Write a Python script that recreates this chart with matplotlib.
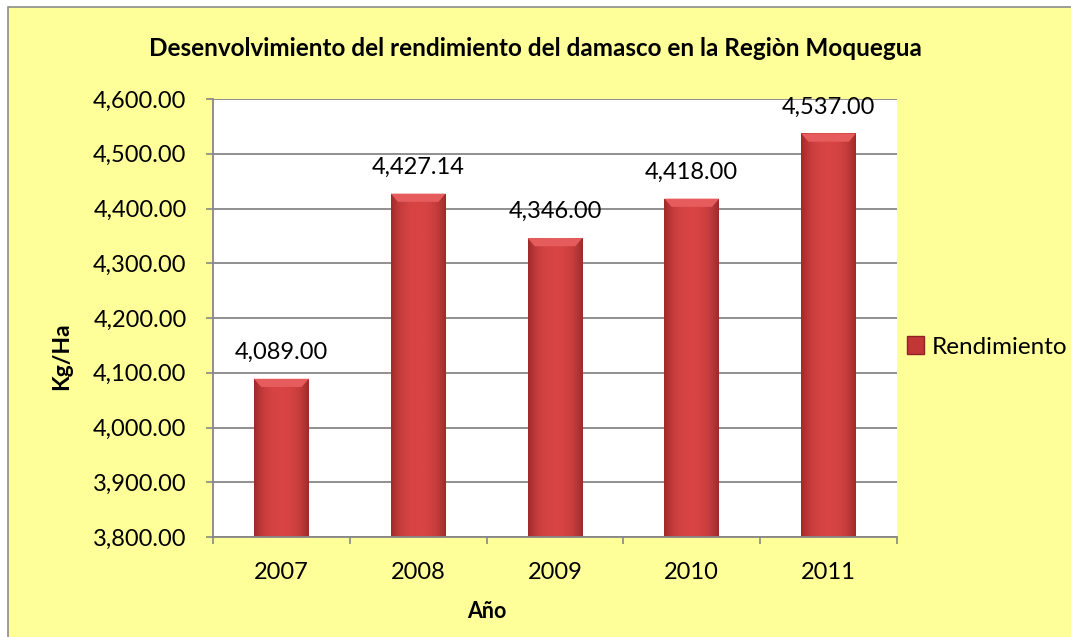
import numpy as np
import matplotlib
matplotlib.use("Agg")
import matplotlib.pyplot as plt
from matplotlib.patches import Rectangle, Patch, Polygon
from matplotlib.ticker import FuncFormatter, FixedLocator

# ---------------------------------
# Data
# ---------------------------------
years = ["2007", "2008", "2009", "2010", "2011"]
rendimiento = [4089.00, 4427.14, 4346.00, 4418.00, 4537.00]
value_labels = ["4,089.00", "4,427.14", "4,346.00", "4,418.00", "4,537.00"]

title = "Desenvolvimiento del rendimiento del damasco en la Regiòn Moquegua"
y_label = "Kg/Ha"
x_label = "Año"
series_name = "Rendimiento"

YELLOW = "#FFFF99"
GRID = "#878787"
BAR_MID = "#D84444"
BAR_EDGE = "#A02A2B"

plt.rcParams.update({
    "font.family": ["Lato", "DejaVu Sans"],
    "font.size": 17,
})

fig = plt.figure(figsize=(10.71, 6.37), dpi=100)
fig.patch.set_facecolor("white")

# yellow chart area with grey border
fig.patches.append(Rectangle((8 / 1071, -0.01), 1.0, 1 - 7 / 637 + 0.01,
                             transform=fig.transFigure, facecolor=YELLOW,
                             edgecolor="#8C8C8C", linewidth=1.2, zorder=-10))

ax = fig.add_axes([213 / 1071, 1 - 537 / 637, 684 / 1071, 438 / 637])
ax.set_facecolor("white")

x = np.arange(len(years))
bars = ax.bar(x, rendimiento, width=0.4, color=BAR_MID, zorder=3, linewidth=0)

ax.set_xlim(-0.5, len(years) - 0.5)
ax.set_ylim(3800, 4600)
ax.set_yticks(np.arange(3800, 4601, 100))
ax.yaxis.set_major_formatter(FuncFormatter(lambda v, p: f"{v:,.2f}"))
ax.grid(axis="y", color=GRID, linewidth=1.3, zorder=0)

# x: ticks on category borders, labels at centers
ax.xaxis.set_major_locator(FixedLocator(np.arange(-0.5, len(years), 1.0)))
ax.xaxis.set_minor_locator(FixedLocator(x))
ax.set_xticklabels([""] * (len(years) + 1))
ax.set_xticklabels(years, minor=True)
ax.tick_params(axis="x", which="major", length=5, width=1.2, color=GRID, direction="out")
ax.tick_params(axis="x", which="minor", length=0, pad=18, labelsize=17)
ax.tick_params(axis="y", length=5, width=1.2, color=GRID, direction="out", pad=14, labelsize=17)

for s in ["top", "right"]:
    ax.spines[s].set_visible(False)
for s in ["left", "bottom"]:
    ax.spines[s].set_color(GRID)
    ax.spines[s].set_linewidth(1.3)
    ax.spines[s].set_zorder(4)

# cylinder-ish shading on each bar
grad = np.abs(np.linspace(-1, 1, 64)) ** 2.6
cmap = matplotlib.colors.LinearSegmentedColormap.from_list("bar", [BAR_MID, BAR_EDGE])
for b in bars:
    bx, bw = b.get_x(), b.get_width()
    y0, h = b.get_y(), b.get_height()
    im = ax.imshow(grad[None, :], cmap=cmap, vmin=0, vmax=1, aspect="auto",
                   extent=(bx, bx + bw, 3800, y0 + h), zorder=3.1,
                   interpolation="bicubic")
    im.set_clip_path(b)
    top = y0 + h
    dy = 15
    dx = bw * 0.13
    ax.add_patch(Polygon([(bx, top), (bx + bw, top), (bx + bw - dx, top - dy),
                          (bx + dx, top - dy)], closed=True,
                         facecolor="#E65C5C", edgecolor="none", zorder=3.2))

ax.set_xlim(-0.5, len(years) - 0.5)
ax.set_ylim(3800, 4600)

for xi, v, lab in zip(x, rendimiento, value_labels):
    ax.annotate(lab, (xi, v), xytext=(0, 19), textcoords="offset points",
                ha="center", va="center", fontsize=17, zorder=5)

fig.text(0.5, 1 - 48 / 637, title, ha="center", va="center",
         fontsize=17.5, fontweight="bold")
fig.text(62 / 1071, 1 - 356 / 637, y_label, ha="center", va="center",
         rotation=90, fontsize=16.5, fontweight="bold")
fig.text(487 / 1071, 1 - 612 / 637, x_label, ha="center", va="center",
         fontsize=15.5, fontweight="bold")

fig.legend(handles=[Patch(facecolor="#C23636", edgecolor="#8E2222", label=series_name)],
           loc="center left", bbox_to_anchor=(907 / 1071, 1 - 347 / 637),
           frameon=False, fontsize=17.5, handlelength=0.7, handleheight=0.7,
           handletextpad=0.3, borderpad=0, borderaxespad=0)

fig.savefig("out.png", dpi=100, facecolor="white")
